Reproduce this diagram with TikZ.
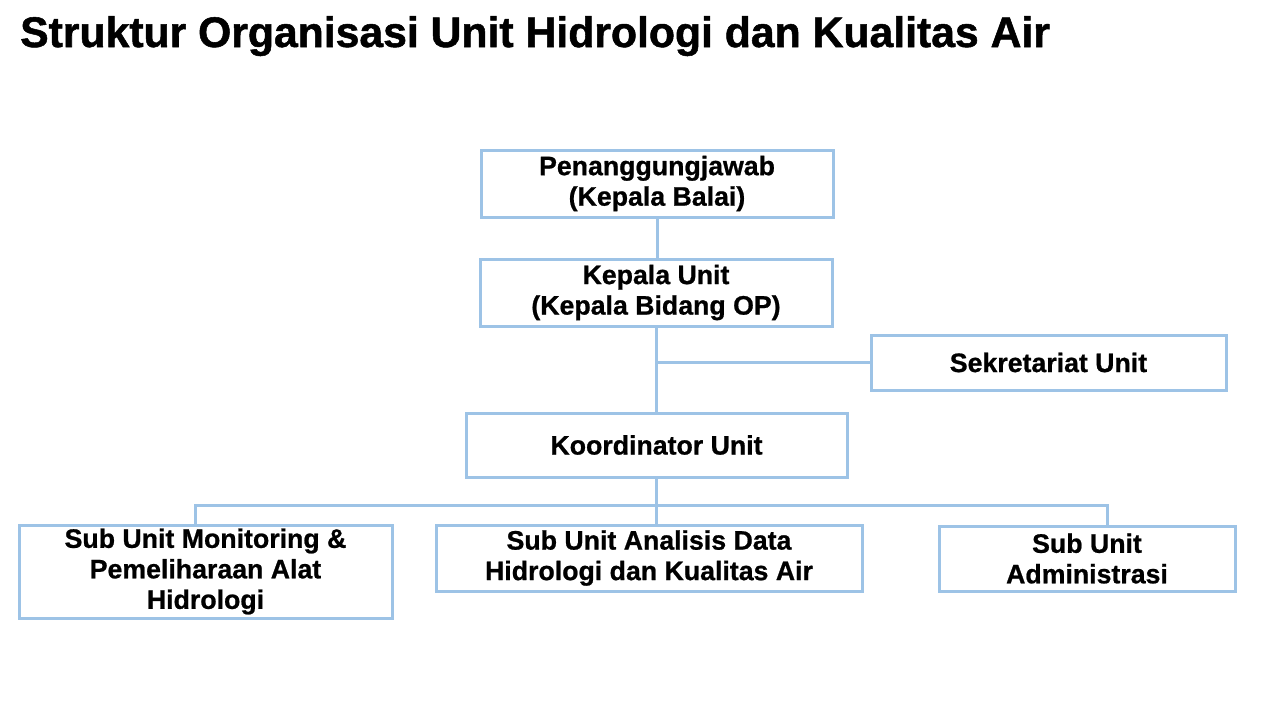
\documentclass[tikz,border=0pt]{standalone}
\usepackage{fontspec}
\setmainfont{Liberation Sans}
\newfontfamily\heavytitle[FakeBold=1.2]{Liberation Sans Bold}
\newfontfamily\heavybox[FakeBold=0.8]{Liberation Sans Bold}
\definecolor{boxblue}{HTML}{9DC3E6}
\begin{document}
\begin{tikzpicture}[x=1pt,y=-1pt,
  orgbox/.style={draw=boxblue, line width=3pt, fill=white, inner sep=0pt, align=center,
    font=\heavybox\fontsize{26.7}{30.5}\selectfont},
  link/.style={draw=boxblue, line width=3pt}]
\useasboundingbox (0,0) rectangle (1280,720);
\fill[white] (0,0) rectangle (1280,720);
\node[anchor=base west, inner sep=0pt, font=\heavytitle\fontsize{42.7}{48}\selectfont] (title) at (20,47) {Struktur Organisasi Unit Hidrologi dan Kualitas Air};

\node[orgbox, minimum width=352pt, minimum height=67pt] (pj) at (657,183.5) {Penanggungjawab\\(Kepala Balai)};
\node[orgbox, minimum width=352pt, minimum height=67pt] (ku) at (656,292.5) {Kepala Unit\\(Kepala Bidang OP)};
\node[orgbox, minimum width=355pt, minimum height=55pt] (sek) at (1048.5,362.5) {Sekretariat Unit};
\node[orgbox, minimum width=381pt, minimum height=64pt] (ko) at (656.5,445) {Koordinator Unit};
\node[orgbox, minimum width=373pt, minimum height=93pt] (s1) at (205.5,571.5) {Sub Unit Monitoring \&\\Pemeliharaan Alat\\Hidrologi};
\node[orgbox, minimum width=426pt, minimum height=66pt] (s2) at (649,558) {Sub Unit Analisis Data\\Hidrologi dan Kualitas Air};
\node[orgbox, minimum width=296pt, minimum height=65pt] (s3) at (1087,558.5) {Sub Unit\\Administrasi};

\coordinate (b1) at (195,505);
\coordinate (b2) at (656,505);
\coordinate (b3) at (1107,505);

\draw[link] (pj.south) -- (pj.south |- ku.north);
\draw[link] (ku.south) -- (ku.south |- ko.north);
\draw[link] (ku.south |- sek.west) -- (sek.west);
\draw[link] (ko.south) -- (ko.south |- b1);
\draw[link] (s1.north -| b1) -- (b1) -- (b3) -- (s3.north -| b3);
\draw[link] (b2) -- (s2.north -| b2);
\end{tikzpicture}
\end{document}
